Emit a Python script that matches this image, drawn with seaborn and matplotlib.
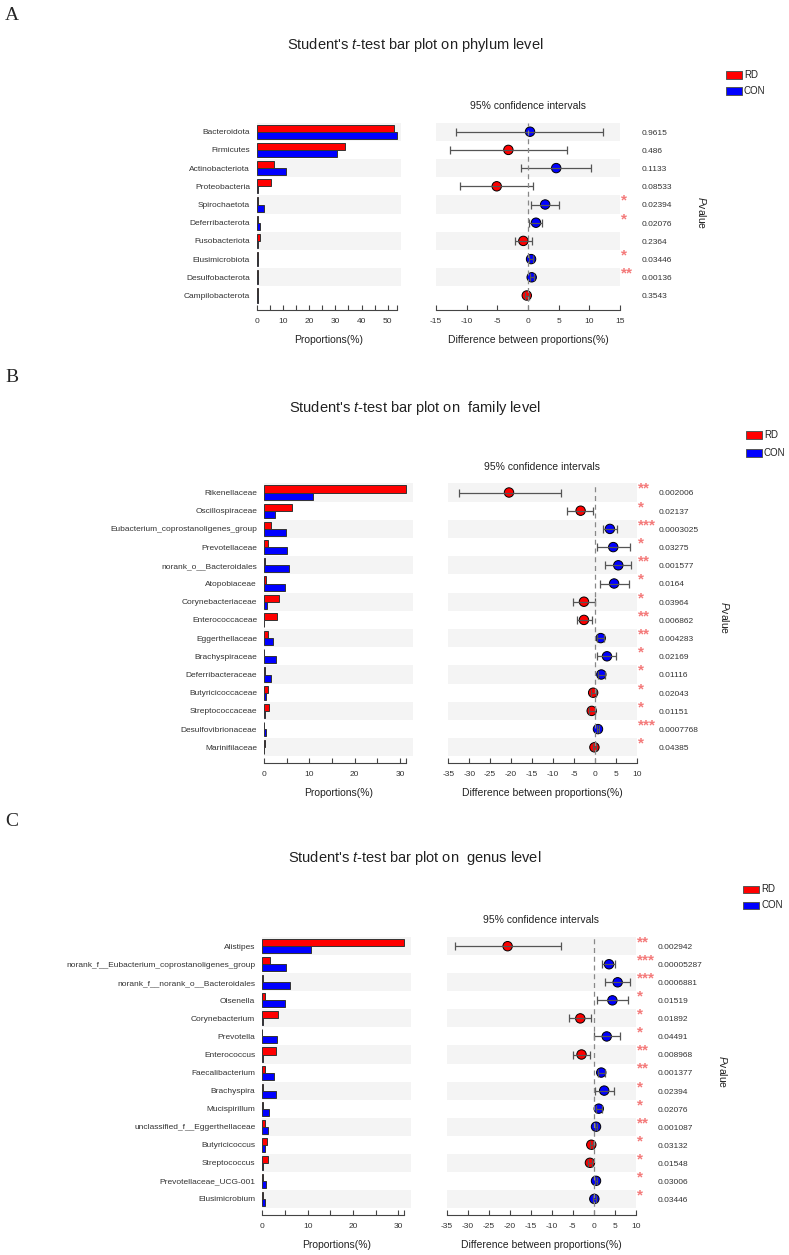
import numpy as np
import pandas as pd
import matplotlib
matplotlib.use("Agg")
import matplotlib.pyplot as plt
import matplotlib.transforms as mtransforms
from matplotlib.patches import Rectangle
from matplotlib.ticker import FixedLocator
import seaborn as sns

sns.set_theme(style="white")
plt.rcParams["font.family"] = ["Liberation Sans", "DejaVu Sans"]
plt.rcParams["mathtext.fontset"] = "custom"
plt.rcParams["mathtext.it"] = "Liberation Sans:italic"
plt.rcParams["mathtext.rm"] = "Liberation Sans"
plt.rcParams["axes.unicode_minus"] = False

# ---------------- data ----------------
phylum_taxa = ["Bacteroidota", "Firmicutes", "Actinobacteriota", "Proteobacteria", "Spirochaetota",
               "Deferribacterota", "Fusobacteriota", "Elusimicrobiota", "Desulfobacterota", "Campilobacterota"]
phylum_rd = [52.3, 33.7, 6.5, 5.2, 0.2, 0.4, 1.0, 0.2, 0.2, 0.5]
phylum_con = [53.4, 30.5, 11.1, 0.3, 2.7, 1.3, 0.2, 0.5, 0.5, 0.3]
phylum_diff = [0.33, -3.2, 4.6, -5.1, 2.8, 1.3, -0.76, 0.5, 0.6, -0.2]
phylum_low = [-11.7, -12.7, -1.1, -11.1, 0.43, 0.2, -2.1, 0.2, 0.3, -0.5]
phylum_high = [12.2, 6.3, 10.3, 0.87, 5.0, 2.3, 0.7, 0.8, 0.9, 0.1]
phylum_p = ["0.9615", "0.486", "0.1133", "0.08533", "0.02394", "0.02076", "0.2364", "0.03446", "0.00136", "0.3543"]

family_taxa = ["Rikenellaceae", "Oscillospiraceae", "Eubacterium_coprostanoligenes_group", "Prevotellaceae",
               "norank_o__Bacteroidales", "Atopobiaceae", "Corynebacteriaceae", "Enterococcaceae",
               "Eggerthellaceae", "Brachyspiraceae", "Deferribacteraceae", "Butyricicoccaceae",
               "Streptococcaceae", "Desulfovibrionaceae", "Marinifilaceae"]
family_rd = [31.3, 6.1, 1.5, 0.9, 0.15, 0.45, 3.3, 2.8, 0.8, 0.1, 0.2, 0.95, 1.0, 0.1, 0.2]
family_con = [10.9, 2.5, 4.85, 5.1, 5.45, 4.7, 0.6, 0.1, 2.0, 2.65, 1.55, 0.45, 0.15, 0.5, 0.05]
family_diff = [-20.5, -3.4, 3.6, 4.4, 5.6, 4.6, -2.6, -2.6, 1.4, 2.9, 1.55, -0.4, -0.75, 0.75, -0.1]
family_low = [-32.4, -6.6, 2.0, 0.45, 2.4, 1.2, -5.1, -4.3, 0.45, 0.45, 0.7, -0.95, -1.4, 0.4, -0.4]
family_high = [-8.2, -0.35, 5.2, 8.3, 8.7, 8.1, 0.05, -0.6, 2.2, 5.1, 2.5, 0.2, -0.05, 1.1, 0.2]
family_p = ["0.002006", "0.02137", "0.0003025", "0.03275", "0.001577", "0.0164", "0.03964", "0.006862",
            "0.004283", "0.02169", "0.01116", "0.02043", "0.01151", "0.0007768", "0.04385"]

genus_taxa = ["Alistipes", "norank_f__Eubacterium_coprostanoligenes_group", "norank_f__norank_o__Bacteroidales",
              "Olsenella", "Corynebacterium", "Prevotella", "Enterococcus", "Faecalibacterium", "Brachyspira",
              "Mucispirillum", "unclassified_f__Eggerthellaceae", "Butyricicoccus", "Streptococcus",
              "Prevotellaceae_UCG-001", "Elusimicrobium"]
genus_rd = [31.3, 1.6, 0.15, 0.5, 3.45, 0.0, 3.0, 0.65, 0.1, 0.2, 0.6, 1.1, 1.2, 0.1, 0.15]
genus_con = [10.75, 5.3, 6.1, 5.1, 0.25, 3.3, 0.1, 2.6, 2.95, 1.55, 1.25, 0.5, 0.1, 0.75, 0.65]
genus_diff = [-20.5, 3.65, 5.7, 4.45, -3.2, 3.1, -2.9, 1.8, 2.5, 1.2, 0.55, -0.57, -0.9, 0.55, 0.15]
genus_low = [-33.0, 2.05, 2.7, 0.87, -5.8, 0.0, -4.85, 0.95, 0.25, 0.5, 0.2, -1.0, -1.35, 0.2, -0.15]
genus_high = [-7.8, 5.15, 8.7, 8.2, -0.64, 6.2, -0.8, 2.75, 4.75, 1.9, 0.9, -0.15, -0.45, 0.9, 0.45]
genus_p = ["0.002942", "0.00005287", "0.0006881", "0.01519", "0.01892", "0.04491", "0.008968", "0.001377",
           "0.02394", "0.02076", "0.001087", "0.03132", "0.01548", "0.03006", "0.03446"]

groups = ["RD", "CON"]
group_colors = {"RD": "#ff0000", "CON": "#0000ff"}

# ---------------- layout helpers ----------------
W, H = 789, 1255
fig = plt.figure(figsize=(W / 100, H / 100), dpi=100)
fig.patch.set_facecolor("white")


def fx(x):
    return x / W


def fy(y):
    return 1 - y / H


def add_ax(x0, x1, y0, y1):
    return fig.add_axes([x0 / W, 1 - y1 / H, (x1 - x0) / W, (y1 - y0) / H])


BAND = "#f4f4f4"
SPINE = "#444444"
TXT = "#333333"
STAR = "#f47a7a"


def stars_for(p):
    v = float(p)
    if v < 0.001:
        return "***"
    if v < 0.01:
        return "**"
    if v < 0.05:
        return "*"
    return ""


def draw_panel(letter, letter_y, title, title_y, taxa, rd, con, diff, low, high, pvals, g):
    n = len(taxa)
    row0, rh, spine_y = g["row0"], g["rh"], g["spine"]
    top = row0 - rh / 2
    ybot = (spine_y - row0) / rh

    fig.text(fx(5), fy(letter_y), letter, family="Liberation Serif", fontsize=14, va="center", ha="left")
    fig.text(fx(415), fy(title_y), title, fontsize=10.5, ha="center", va="center", color="#222222")

    # ---- bar axis ----
    ax = add_ax(g["bx0"], g["bx1"], top, spine_y)
    df = pd.DataFrame({"taxon": list(taxa) * 2,
                       "group": ["RD"] * n + ["CON"] * n,
                       "value": list(rd) + list(con)})
    sns.barplot(data=df, x="value", y="taxon", hue="group", order=taxa, hue_order=groups,
                palette=group_colors, orient="h", width=0.78, saturation=1, errorbar=None,
                edgecolor="#333333", linewidth=0.7, legend=False, ax=ax, zorder=2)
    for i in range(0, n, 2):
        ax.axhspan(i - 0.5, i + 0.5, color=BAND, zorder=0, lw=0)
    vmax = max(max(rd), max(con))
    ax.set_xlim(0, g["bxmax"])
    ax.set_ylim(ybot, -0.5)
    for s in ["top", "right", "left"]:
        ax.spines[s].set_visible(False)
    ax.spines["bottom"].set_color(SPINE)
    ax.spines["bottom"].set_linewidth(0.8)
    ax.spines["bottom"].set_bounds(0, vmax)
    ax.xaxis.set_major_locator(FixedLocator(list(np.arange(0, vmax + 0.01, 10))))
    ax.xaxis.set_minor_locator(FixedLocator(list(np.arange(5, vmax, 10)) + [vmax]))
    ax.xaxis.set_major_formatter(matplotlib.ticker.FuncFormatter(lambda v, p: f"{v:.0f}"))
    ax.tick_params(axis="x", which="both", direction="in", length=3.5, width=0.8, color=SPINE,
                   labelsize=6, labelcolor=TXT, pad=6, bottom=True)
    ax.tick_params(axis="y", length=0, pad=5, labelsize=6, labelcolor=TXT)
    ax.set_ylabel("")
    ax.set_xlabel("Proportions(%)", fontsize=7.5, color="#222222", labelpad=7)
    ax.grid(False)
    ax.set_facecolor("none")

    # ---- CI axis ----
    ax2 = add_ax(g["cx0"], g["cx1"], top, spine_y)
    for i in range(0, n, 2):
        ax2.axhspan(i - 0.5, i + 0.5, color=BAND, zorder=0, lw=0)
    ypos = np.arange(n)
    d = np.array(diff)
    lo = np.array(low)
    hi = np.array(high)
    ax2.errorbar(d, ypos, xerr=[d - lo, hi - d], fmt="none", ecolor="#555555", elinewidth=0.9,
                 capsize=3.2, capthick=0.9, zorder=4)
    cdf = pd.DataFrame({"diff": d, "y": ypos, "group": np.where(d > 0, "CON", "RD")})
    sns.scatterplot(data=cdf, x="diff", y="y", hue="group", hue_order=groups, palette=group_colors,
                    s=46, edgecolor="black", linewidth=0.7, legend=False, ax=ax2, zorder=3)
    ax2.axvline(0, color="#888888", ls=(0, (4, 3)), lw=0.9, zorder=5)
    ax2.set_xlim(*g["cxlim"])
    ax2.set_ylim(ybot, -0.5)
    ax2.set_yticks([])
    ax2.set_ylabel("")
    for s in ["top", "right", "left"]:
        ax2.spines[s].set_visible(False)
    ax2.spines["bottom"].set_color(SPINE)
    ax2.spines["bottom"].set_linewidth(0.8)
    ax2.xaxis.set_major_locator(FixedLocator(list(np.arange(g["cxlim"][0], g["cxlim"][1] + 0.01, 5))))
    ax2.xaxis.set_major_formatter(matplotlib.ticker.FuncFormatter(lambda v, p: f"{v:.0f}"))
    ax2.tick_params(axis="x", direction="in", length=3.5, width=0.8, color=SPINE,
                    labelsize=6, labelcolor=TXT, pad=6, bottom=True)
    ax2.set_xlabel("Difference between proportions(%)", fontsize=7.5, color="#222222", labelpad=7)
    ax2.grid(False)
    ax2.set_facecolor("none")

    fig.text(fx((g["cx0"] + g["cx1"]) / 2), fy(g["ci_title_y"]), "95% confidence intervals",
             fontsize=7.5, ha="center", va="center", color="#222222")

    tr = mtransforms.blended_transform_factory(fig.transFigure, ax2.transData)
    for i, p in enumerate(pvals):
        st = stars_for(p)
        if st:
            ax2.text(fx(g["cx1"] + 1), i - 0.2, st, transform=tr, fontsize=11, fontweight="bold",
                     color=STAR, ha="left", va="center", clip_on=False)
        ax2.text(fx(g["cx1"] + 22), i + 0.08, p, transform=tr, fontsize=6, color=TXT,
                 ha="left", va="center", clip_on=False)

    fig.text(fx(g["pv_x"]), fy(g["pv_y"]), r"$\mathit{P}$value", rotation=270, fontsize=7.5,
             ha="center", va="center", color="#222222")

    # legend
    lx, ly = g["leg"]
    for k, grp in enumerate(groups):
        yy = ly + k * g["leg_dy"]
        fig.patches.append(Rectangle((fx(lx), fy(yy + 3.5)), 16 / W, 7 / H, transform=fig.transFigure,
                                     facecolor=group_colors[grp], edgecolor="#555555", lw=0.7))
        fig.text(fx(lx + 18), fy(yy), grp, fontsize=7, ha="left", va="center", color="#222222")


geomA = dict(row0=131.7, rh=18.2, spine=309.5, bx0=257, bx1=400.7, bxmax=55.0,
             cx0=436, cx1=620, cxlim=(-15, 15), ci_title_y=106, pv_x=702, pv_y=213,
             leg=(726, 75), leg_dy=16)
geomB = dict(row0=492.5, rh=18.2, spine=762.7, bx0=264, bx1=412.7, bxmax=32.8,
             cx0=448.3, cx1=636.7, cxlim=(-35, 10), ci_title_y=467, pv_x=725, pv_y=618,
             leg=(746, 435), leg_dy=18)
geomC = dict(row0=946.2, rh=18.05, spine=1215, bx0=262.3, bx1=410.7, bxmax=32.75,
             cx0=446.7, cx1=635.7, cxlim=(-35, 10), ci_title_y=920, pv_x=723, pv_y=1072,
             leg=(743, 889.5), leg_dy=15.5)

draw_panel("A", 15, r"Student's $\mathit{t}$-test bar plot on phylum level", 45,
           phylum_taxa, phylum_rd, phylum_con, phylum_diff, phylum_low, phylum_high, phylum_p, geomA)
draw_panel("B", 378, r"Student's $\mathit{t}$-test bar plot on  family level", 408,
           family_taxa, family_rd, family_con, family_diff, family_low, family_high, family_p, geomB)
draw_panel("C", 822, r"Student's $\mathit{t}$-test bar plot on  genus level", 858,
           genus_taxa, genus_rd, genus_con, genus_diff, genus_low, genus_high, genus_p, geomC)

fig.savefig("out.png", dpi=100, facecolor="white")
